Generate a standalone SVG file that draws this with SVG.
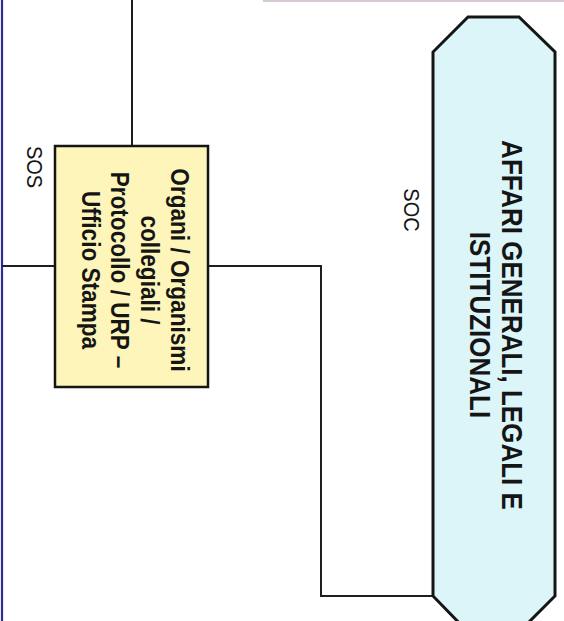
<svg xmlns="http://www.w3.org/2000/svg" width="564" height="621" viewBox="0 0 564 621">
<style>
.conn{fill:none;stroke:#1e1e1e;stroke-width:2}
.box{fill:#fdf5b9;stroke:#151515;stroke-width:2.5}
.oct{fill:#dcf5f9;stroke:#151515;stroke-width:3}
.t{font-family:"Liberation Sans",Arial,sans-serif;fill:#151515;text-anchor:middle}
.b{font-weight:bold}
</style>
<rect x="0" y="0" width="564" height="621" fill="#ffffff"/>
<rect x="263" y="0" width="301" height="2" fill="#d6cad6"/>
<line x1="2" y1="0" x2="2" y2="621" stroke="#2c2c9e" stroke-width="2.2"/>
<g id="connectors">
<line class="conn" x1="132" y1="0" x2="132" y2="146"/>
<polyline class="conn" points="2,266 55,266"/>
<polyline class="conn" points="208,266 321,266 321,596 433,596"/>
</g>
<g id="node-sos">
<rect class="box" x="55" y="146" width="153" height="241"/>
<g transform="translate(0,270) rotate(90) scale(1,1.12)">
<text class="t b" font-size="22.6" x="0" y="-152.5">Organi / Organismi</text>
<text class="t b" font-size="22.6" x="0" y="-126">collegiali /</text>
<text class="t b" font-size="22.6" x="0" y="-99.5">Protocollo / URP –</text>
<text class="t b" font-size="22.6" x="0" y="-73.5">Ufficio Stampa</text>
</g>
</g>
<g id="label-sos" transform="translate(34,167) rotate(90) scale(1,1.1)">
<text class="t" font-size="20" x="0" y="6.5">SOS</text>
</g>
<g id="node-soc">
<polygon class="oct" points="468,17 519,17 555,52 555,596 519,632 468,632 433,596 433,52"/>
<g transform="translate(0,325) rotate(90) scale(1,1.1)">
<text class="t b" font-size="26" x="0" y="-456">AFFARI GENERALI, LEGALI E</text>
<text class="t b" font-size="26" x="0" y="-427.5">ISTITUZIONALI</text>
</g>
</g>
<g id="label-soc" transform="translate(411,210) rotate(90) scale(1,1.1)">
<text class="t" font-size="20" x="0" y="6.5">SOC</text>
</g>
</svg>
